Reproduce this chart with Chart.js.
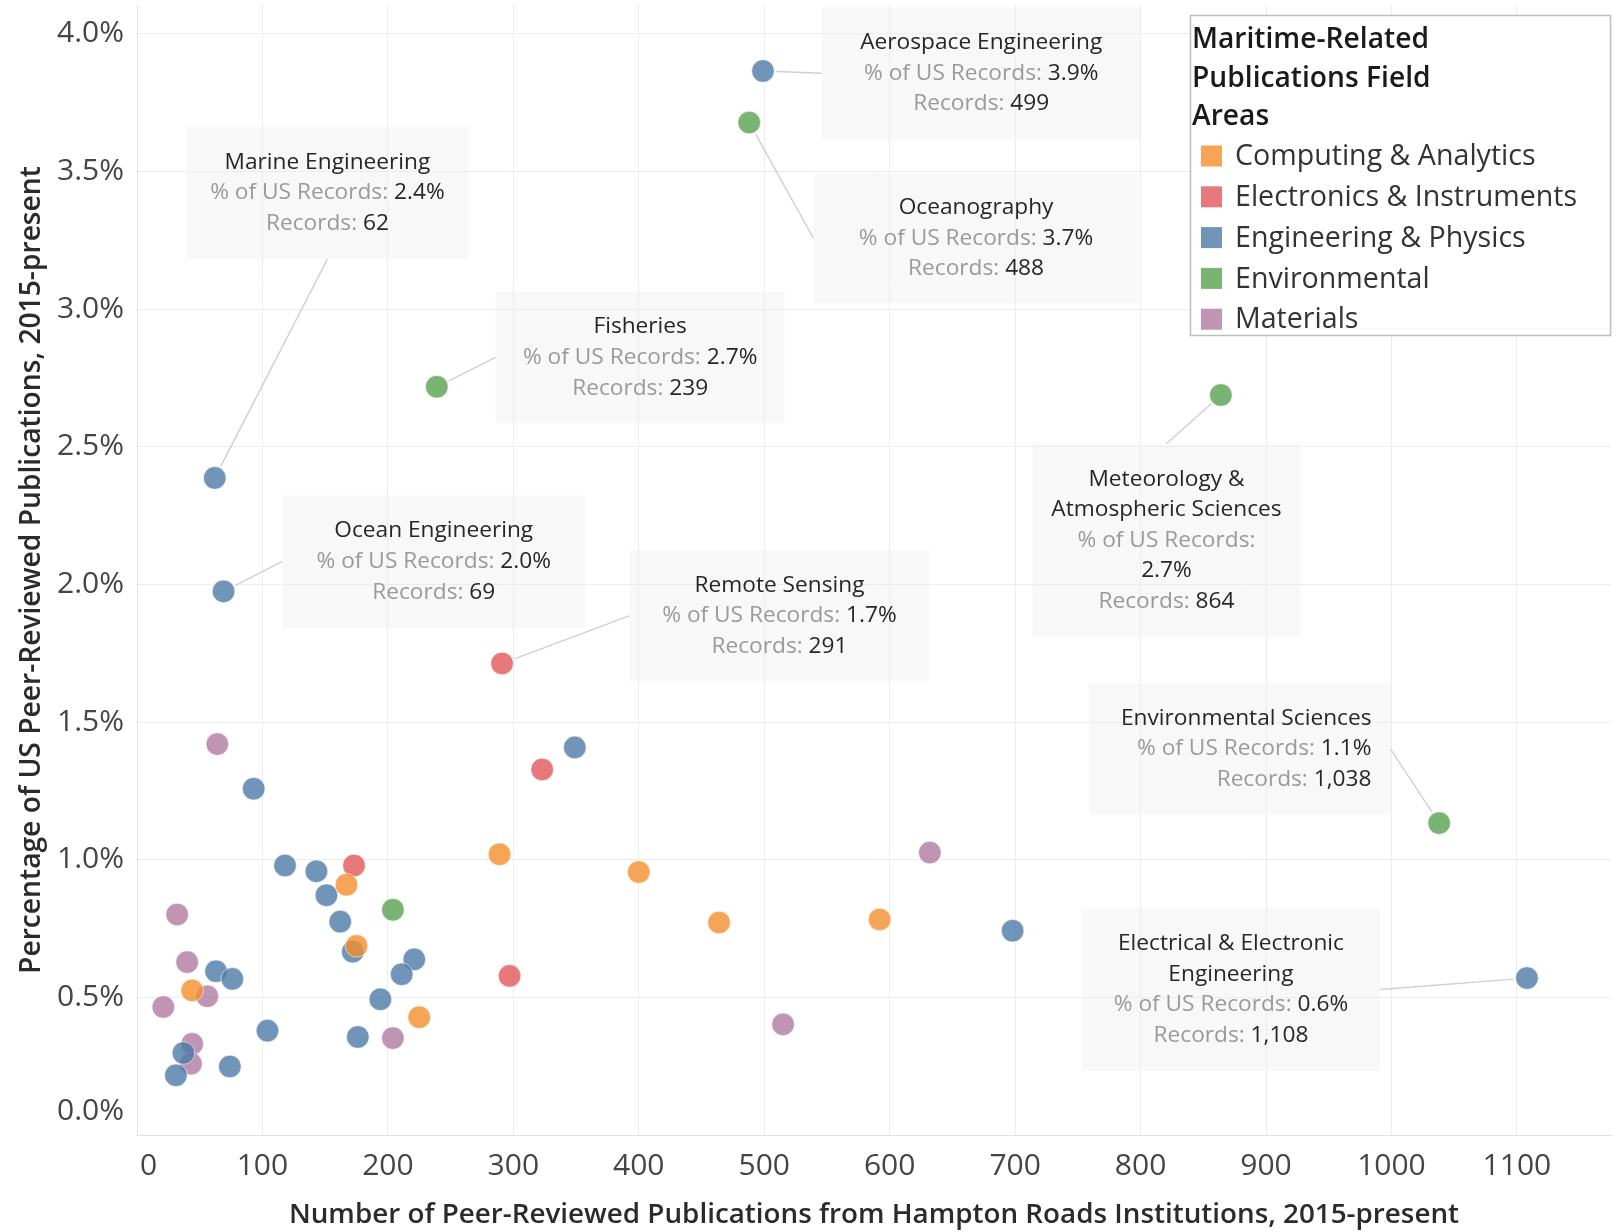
<!DOCTYPE html>
<html>
<head>
<meta charset="utf-8">
<script src="https://cdn.jsdelivr.net/npm/chart.js@4.4.1/dist/chart.umd.min.js"></script>
<style>
  html, body { margin: 0; padding: 0; background: #ffffff; }
  #wrap { width: 1619px; height: 1232px; position: relative; }
  canvas { display: block; }
</style>
</head>
<body>
<div id="wrap"><canvas id="chart" width="1619" height="1232"></canvas></div>
<script>
// ---------------- DATA ----------------
const categories = ['Computing & Analytics', 'Electronics & Instruments', 'Engineering & Physics', 'Environmental', 'Materials'];

const computingRecords = [289, 400, 464, 592, 167, 175, 44, 225];
const computingPct     = [1.02, 0.955, 0.772, 0.783, 0.909, 0.687, 0.525, 0.428];

const electronicsRecords = [291, 323, 173, 297];
const electronicsPct     = [1.713, 1.328, 0.979, 0.578];

const engineeringRecords = [499, 62, 69, 1108, 93, 349, 698, 118, 143, 151, 162, 172, 63, 76, 104, 37, 31, 74, 221, 211, 194, 176];
const engineeringPct     = [3.865, 2.387, 1.975, 0.57, 1.258, 1.408, 0.742, 0.979, 0.958, 0.871, 0.775, 0.666, 0.595, 0.567, 0.379, 0.298, 0.217, 0.249, 0.638, 0.584, 0.493, 0.356];

const environmentalRecords = [488, 239, 864, 1038, 204];
const environmentalPct     = [3.678, 2.718, 2.688, 1.133, 0.818];

const materialsRecords = [64, 632, 515, 32, 40, 56, 21, 44, 43, 204];
const materialsPct     = [1.42, 1.026, 0.402, 0.801, 0.628, 0.504, 0.465, 0.331, 0.259, 0.352];

const xTickValues = [0, 100, 200, 300, 400, 500, 600, 700, 800, 900, 1000, 1100];
const xTickLabels = ['0', '100', '200', '300', '400', '500', '600', '700', '800', '900', '1000', '1100'];
const yTickValues = [0, 0.5, 1, 1.5, 2, 2.5, 3, 3.5, 4];
const yTickLabels = ['0.0%', '0.5%', '1.0%', '1.5%', '2.0%', '2.5%', '3.0%', '3.5%', '4.0%'];

const xTitle = 'Number of Peer-Reviewed Publications from Hampton Roads Institutions, 2015-present';
const yTitle = 'Percentage of US Peer-Reviewed Publications, 2015-present';
const legendTitle = ['Maritime-Related', 'Publications Field', 'Areas'];

// labeled fields (category index, point index within that category)
const labeledFields   = [['Aerospace Engineering'], ['Oceanography'], ['Marine Engineering'], ['Fisheries'], ['Ocean Engineering'], ['Remote Sensing'], ['Meteorology &', 'Atmospheric Sciences'], ['Environmental Sciences'], ['Electrical & Electronic', 'Engineering']];
const labeledCategory = [2, 3, 2, 3, 2, 1, 3, 3, 2];
const labeledIndex    = [0, 0, 1, 1, 2, 0, 2, 3, 3];

// ---------------- LAYOUT / STYLE ----------------
const recordsByCat = [computingRecords, electronicsRecords, engineeringRecords, environmentalRecords, materialsRecords];
const pctByCat = [computingPct, electronicsPct, engineeringPct, environmentalPct, materialsPct];
const catColors = ['rgba(242,142,43,0.8)', 'rgba(225,87,89,0.8)', 'rgba(78,121,167,0.8)', 'rgba(89,161,79,0.8)', 'rgba(176,122,161,0.8)'];
const FONT = "'Open Sans', 'Noto Sans', sans-serif";

// annotation boxes in data units [x1, yTop, x2, yBottom], leader anchor side, text alignment
const annLayout = [
  { box: [545.9, 4.097, 800.1, 3.617], anchor: 'left',   align: 'center' },
  { box: [539.3, 3.494, 798.4, 3.021], anchor: 'left',   align: 'center' },
  { box: [39.1, 3.662, 264.5, 3.182],  anchor: 'bottom', align: 'center' },
  { box: [285.9, 3.063, 516.3, 2.586], anchor: 'left',   align: 'center' },
  { box: [115.6, 2.323, 357.5, 1.843], anchor: 'left',   align: 'center' },
  { box: [392.8, 2.125, 631.5, 1.648], anchor: 'left',   align: 'center' },
  { box: [713.7, 2.511, 927.6, 1.810], anchor: 'top',    align: 'center', splitPct: true },
  { box: [759.0, 1.641, 999.2, 1.165], anchor: 'right',  align: 'right' },
  { box: [753.1, 0.823, 991.0, 0.234], anchor: 'right',  align: 'center' }
];

const POINT_R = 11.3;

const annotationPlugin = {
  id: 'annotations',
  beforeDatasetsDraw(chart) {
    const ctx = chart.ctx;
    const xs = chart.scales.x, ys = chart.scales.y;
    ctx.save();
    labeledFields.forEach((titleLines, k) => {
      const L = annLayout[k];
      const c = labeledCategory[k], i = labeledIndex[k];
      const rec = recordsByCat[c][i], pct = pctByCat[c][i];
      const x1 = xs.getPixelForValue(L.box[0]), x2 = xs.getPixelForValue(L.box[2]);
      const y1 = ys.getPixelForValue(L.box[1]), y2 = ys.getPixelForValue(L.box[3]);
      const px = xs.getPixelForValue(rec), py = ys.getPixelForValue(pct);

      // leader line
      let ax, ay;
      if (L.anchor === 'left') { ax = x1; ay = (y1 + y2) / 2; }
      else if (L.anchor === 'right') { ax = x2; ay = (y1 + y2) / 2; }
      else if (L.anchor === 'top') { ax = (x1 + x2) / 2; ay = y1; }
      else { ax = (x1 + x2) / 2; ay = y2; }
      const dx = px - ax, dy = py - ay, d = Math.hypot(dx, dy);
      const ex = px - dx / d * (POINT_R + 2), ey = py - dy / d * (POINT_R + 2);
      ctx.strokeStyle = 'rgba(205,205,205,0.95)';
      ctx.lineWidth = 1.4;
      ctx.beginPath(); ctx.moveTo(ax, ay); ctx.lineTo(ex, ey); ctx.stroke();

      // box
      ctx.fillStyle = 'rgba(238,238,238,0.42)';
      ctx.fillRect(x1, y1, x2 - x1, y2 - y1);

      // text
      const dark = '#262626', gray = '#9a9a9a';
      const lines = titleLines.map(t => [{ t: t, c: dark }]);
      const pctStr = pct.toFixed(1) + '%';
      if (L.splitPct) {
        lines.push([{ t: '% of US Records:', c: gray }]);
        lines.push([{ t: pctStr, c: dark }]);
      } else {
        lines.push([{ t: '% of US Records: ', c: gray }, { t: pctStr, c: dark }]);
      }
      lines.push([{ t: 'Records: ', c: gray }, { t: rec.toLocaleString('en-US'), c: dark }]);

      ctx.font = '22.7px ' + FONT;
      ctx.textBaseline = 'middle';
      ctx.textAlign = 'left';
      const lh = 30.6;
      const cy = (y1 + y2) / 2;
      lines.forEach((segs, j) => {
        const ly = cy + (j - (lines.length - 1) / 2) * lh;
        const w = segs.reduce((s, g) => s + ctx.measureText(g.t).width, 0);
        let sx = L.align === 'right' ? x2 - 19 - w : (x1 + x2) / 2 - w / 2;
        segs.forEach(g => { ctx.fillStyle = g.c; ctx.fillText(g.t, sx, ly); sx += ctx.measureText(g.t).width; });
      });
    });
    ctx.restore();
  }
};

const legendPlugin = {
  id: 'customLegend',
  afterDraw(chart) {
    const ctx = chart.ctx;
    const right = chart.chartArea.right;
    const bx = right - 421, by = 15, bw = 421, bh = 321;
    ctx.save();
    ctx.fillStyle = '#ffffff';
    ctx.fillRect(bx, by, bw, bh);
    ctx.strokeStyle = '#bdbdbd';
    ctx.lineWidth = 1.5;
    ctx.strokeRect(bx + 0.5, by + 0.5, bw - 1, bh - 1);
    ctx.textBaseline = 'middle';
    ctx.textAlign = 'left';
    ctx.fillStyle = '#1a1a1a';
    ctx.font = '600 28.2px ' + FONT;
    legendTitle.forEach((t, j) => ctx.fillText(t, bx + 2, by + 25 + j * 38.5));
    ctx.font = '28.6px ' + FONT;
    categories.forEach((name, j) => {
      const cy = by + 141 + j * 40.8;
      ctx.fillStyle = catColors[j];
      ctx.fillRect(bx + 11, cy - 10.5, 21, 21);
      ctx.fillStyle = '#333333';
      ctx.fillText(name, bx + 45, cy + 1);
    });
    ctx.restore();
  }
};

const chart = new Chart(document.getElementById('chart').getContext('2d'), {
  type: 'scatter',
  data: {
    datasets: categories.map((name, c) => ({
      label: name,
      data: recordsByCat[c].map((r, j) => ({ x: r, y: pctByCat[c][j] })),
      backgroundColor: catColors[c],
      borderColor: 'rgba(255,255,255,0.55)',
      borderWidth: 1,
      pointRadius: POINT_R,
      pointHoverRadius: POINT_R
    }))
  },
  options: {
    responsive: false,
    animation: false,
    devicePixelRatio: 1,
    layout: { autoPadding: false, padding: { left: 0, right: 8, top: 5, bottom: 0 } },
    plugins: { legend: { display: false }, tooltip: { enabled: false } },
    scales: {
      x: {
        type: 'linear', min: 0, max: 1175,
        afterBuildTicks: s => { s.ticks = xTickValues.map(v => ({ value: v })); },
        afterFit: s => { s.height = 97; s.paddingLeft = 0; s.paddingRight = 0; },
        ticks: {
          autoSkip: false, maxRotation: 0, padding: 13, color: '#454545',
          font: { family: FONT, size: 30 },
          callback: (v, i) => i === 0 ? '   ' + xTickLabels[i] : xTickLabels[i]
        },
        grid: { color: '#ececec', drawTicks: false, lineWidth: 1 },
        border: { color: '#e2e2e2' },
        title: { display: true, text: xTitle, color: '#2b2b2b', font: { family: FONT, size: 27.8, weight: '600' }, padding: { top: 0, bottom: 0 } }
      },
      y: {
        type: 'linear', min: 0, max: 4.105,
        afterBuildTicks: s => { s.ticks = yTickValues.map(v => ({ value: v })); },
        afterFit: s => { s.width = 137; s.paddingTop = 0; s.paddingBottom = 0; },
        ticks: {
          padding: 13, color: '#454545',
          font: (c) => c.index === 0 ? { family: FONT, size: 30, lineHeight: 48 / 30 } : { family: FONT, size: 30 },
          callback: (v, i) => i === 0 ? [yTickLabels[i], ''] : yTickLabels[i]
        },
        grid: { color: '#ececec', drawTicks: false, lineWidth: 1 },
        border: { color: '#e2e2e2' },
        title: { display: true, text: yTitle, color: '#2b2b2b', font: { family: FONT, size: 28.2, weight: '600' }, padding: { top: 15, bottom: 0 } }
      }
    }
  },
  plugins: [annotationPlugin, legendPlugin]
});
</script>
</body>
</html>
